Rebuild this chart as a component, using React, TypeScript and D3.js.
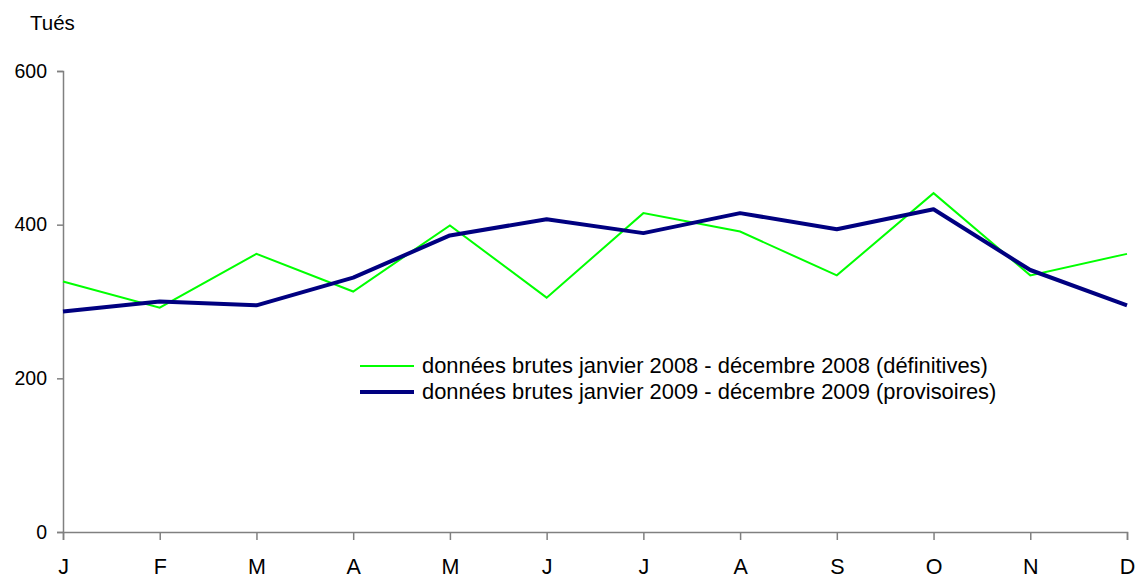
import { useEffect, useRef } from "react";
import * as d3 from "d3";

const width = 1137;
const height = 578;
const margin = { top: 71, right: 10, bottom: 46, left: 63 };

const months = ["J", "F", "M", "A", "M", "J", "J", "A", "S", "O", "N", "D"];
const yTicks = [0, 200, 400, 600];
const values2008 = [326, 292, 362, 313, 399, 305, 415, 391, 334, 441, 334, 362];
const values2009 = [287, 300, 295, 331, 386, 407, 389, 415, 394, 420, 341, 295];
const label2008 = "données brutes janvier 2008 - décembre 2008 (définitives)";
const label2009 = "données brutes janvier 2009 - décembre 2009 (provisoires)";

export default function App() {
  const ref = useRef<SVGSVGElement>(null);

  useEffect(() => {
    const svg = d3.select(ref.current);
    svg.selectAll("*").remove();

    const x = d3
      .scalePoint<number>()
      .domain(d3.range(months.length))
      .range([margin.left, 1127]);
    const y = d3
      .scaleLinear()
      .domain([0, 600])
      .range([532, margin.top]);

    const font = "Arial, 'Liberation Sans', sans-serif";

    // axe Y
    const gy = svg
      .append("g")
      .attr("transform", "translate(" + margin.left + ",0)")
      .call(
        d3.axisLeft(y).tickValues(yTicks).tickSize(6).tickPadding(10)
      );
    gy.select(".domain").attr("stroke", "#808080").attr("stroke-width", 1.5);
    gy.selectAll(".tick line").attr("stroke", "#808080").attr("stroke-width", 1.5);
    gy.selectAll(".tick text")
      .attr("fill", "#000")
      .style("font-family", font)
      .style("font-size", "19.5px");

    // axe X
    const gx = svg
      .append("g")
      .attr("transform", "translate(0," + y(0) + ")")
      .call(
        d3
          .axisBottom(x)
          .tickFormat((d) => months[d as number])
          .tickSizeOuter(0)
          .tickSize(8)
          .tickPadding(19)
      );
    gx.select(".domain").attr("stroke", "#808080").attr("stroke-width", 1.5);
    gx.selectAll(".tick line").attr("stroke", "#808080").attr("stroke-width", 1.5);
    gx.selectAll(".tick text")
      .attr("fill", "#000")
      .style("font-family", font)
      .style("font-size", "21.5px");

    svg
      .append("text")
      .attr("x", 30)
      .attr("y", 30)
      .style("font-family", font)
      .style("font-size", "20.5px")
      .text("Tués");

    const line = d3
      .line<number>()
      .x((d, i) => x(i) as number)
      .y((d) => y(d));

    svg
      .append("path")
      .datum(values2008)
      .attr("fill", "none")
      .attr("stroke", "#00ff00")
      .attr("stroke-width", 2)
      .attr("d", line);

    svg
      .append("path")
      .datum(values2009)
      .attr("fill", "none")
      .attr("stroke", "#000080")
      .attr("stroke-width", 4)
      .attr("stroke-linejoin", "round")
      .attr("d", line);

    // légende
    const legend = [
      { label: label2008, color: "#00ff00", w: 2, y: 366 },
      { label: label2009, color: "#000080", w: 4, y: 392 },
    ];
    const lg = svg.append("g");
    legend.forEach((l) => {
      lg.append("line")
        .attr("x1", 360)
        .attr("x2", 414)
        .attr("y1", l.y)
        .attr("y2", l.y)
        .attr("stroke", l.color)
        .attr("stroke-width", l.w);
      lg.append("text")
        .attr("x", 422)
        .attr("y", l.y + 7)
        .style("font-family", font)
        .style("font-size", "21.9px")
        .text(l.label);
    });
  }, []);

  return (
    <svg
      ref={ref}
      width={width}
      height={height}
      style={{ position: "absolute", left: 0, top: 0, background: "#fff" }}
    />
  );
}
